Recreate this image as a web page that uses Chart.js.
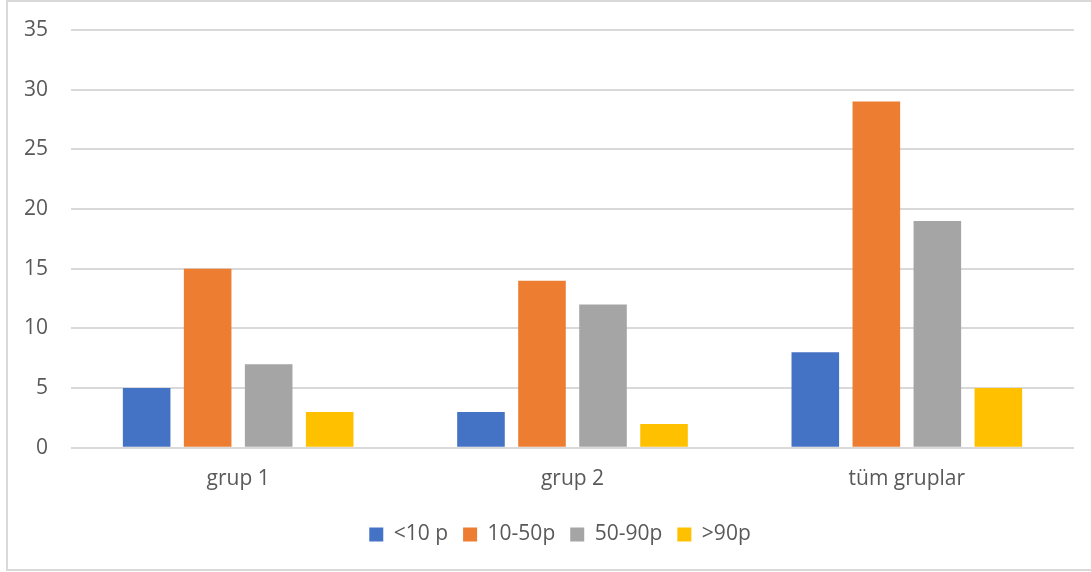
<!DOCTYPE html>
<html lang="tr">
<head>
<meta charset="utf-8">
<title>Gruplara göre süre dağılımı</title>
<script src="https://cdn.jsdelivr.net/npm/chart.js@4.4.1/dist/chart.umd.min.js"></script>
<style>
  html, body { margin: 0; padding: 0; background: #ffffff; overflow: hidden; }
  #frame {
    position: absolute; left: 6px; top: 0; width: 1100px; height: 567px;
    border: 2px solid #d9d9d9; pointer-events: none;
  }
  #wrap { position: absolute; left: 0; top: 0; width: 1091px; height: 572px; }
</style>
</head>
<body>
<div id="wrap"><canvas id="chart" width="1091" height="572"></canvas></div>
<div id="frame"></div>
<script>
// Categories and series
const categories = ['grup 1', 'grup 2', 'tüm gruplar'];
const seriesNames = ['<10 p', '10-50p', '50-90p', '>90p'];
const under10 = [5, 3, 8];
const from10to50 = [15, 14, 29];
const from50to90 = [7, 12, 19];
const over90 = [3, 2, 5];
const yTicks = [0, 5, 10, 15, 20, 25, 30, 35];

const colors = ['#4472c4', '#ed7d31', '#a5a5a5', '#ffc000'];
const seriesValues = [under10, from10to50, from50to90, over90];

const textColor = '#595959';
const gridColor = '#d9d9d9';
const fontFamily = '"Open Sans", "Noto Sans", sans-serif';
const fontSize = 21;

const datasets = seriesNames.map((name, i) => ({
  label: name,
  data: seriesValues[i],
  backgroundColor: colors[i],
  borderWidth: 0,
  barPercentage: 0.78,
  categoryPercentage: 0.73
}));

// Moves the legend row so it sits under the middle of the full frame
const legendShift = {
  id: 'legendShift',
  afterLayout(chart) {
    const lg = chart.legend;
    if (lg) {
      lg.left += 23;
      lg.right += 23;
      lg.top -= 2;
      lg.bottom -= 2;
    }
  }
};

new Chart(document.getElementById('chart'), {
  type: 'bar',
  data: { labels: categories, datasets },
  plugins: [legendShift],
  options: {
    responsive: false,
    animation: false,
    devicePixelRatio: 1,
    layout: { padding: { left: 0, right: 17, top: 30, bottom: 15 } },
    plugins: {
      tooltip: { enabled: false },
      legend: {
        position: 'bottom',
        labels: {
          boxWidth: 14,
          boxHeight: 14,
          padding: 15,
          color: textColor,
          font: { family: fontFamily, size: fontSize }
        }
      }
    },
    scales: {
      x: {
        grid: { display: false, drawTicks: false },
        border: { display: false },
        ticks: {
          color: textColor,
          padding: 19,
          font: { family: fontFamily, size: fontSize }
        }
      },
      y: {
        min: 0,
        max: 35,
        afterFit: (scale) => {
          scale.width = 71;
          scale.paddingTop = 0;
          scale.paddingBottom = 0;
        },
        afterBuildTicks: (scale) => { scale.ticks = yTicks.map(v => ({ value: v })); },
        grid: { color: gridColor, lineWidth: 2, drawTicks: false },
        border: { display: false },
        ticks: {
          color: textColor,
          padding: 23,
          font: { family: fontFamily, size: fontSize }
        }
      }
    }
  }
});
</script>
</body>
</html>
